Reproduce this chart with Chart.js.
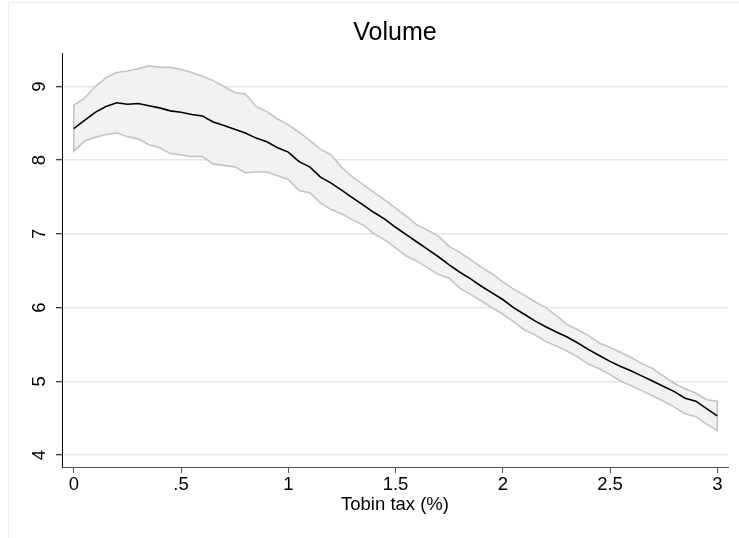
<!DOCTYPE html>
<html>
<head>
<meta charset="utf-8">
<script src="https://cdn.jsdelivr.net/npm/chart.js@4.4.1/dist/chart.umd.min.js"></script>
<style>
    html, body { margin: 0; padding: 0; background: #fff; }
    #wrap { width: 739px; height: 538px; }
</style>
</head>
<body>
<div id="wrap"><canvas id="volume-chart" width="739" height="538"></canvas></div>
<script>
const taxLevels = [
    0, 0.05, 0.1, 0.15, 0.2, 0.25, 0.3, 0.35, 0.4, 0.45,
    0.5, 0.55, 0.6, 0.65, 0.7, 0.75, 0.8, 0.85, 0.9, 0.95,
    1, 1.05, 1.1, 1.15, 1.2, 1.25, 1.3, 1.35, 1.4, 1.45,
    1.5, 1.55, 1.6, 1.65, 1.7, 1.75, 1.8, 1.85, 1.9, 1.95,
    2, 2.05, 2.1, 2.15, 2.2, 2.25, 2.3, 2.35, 2.4, 2.45,
    2.5, 2.55, 2.6, 2.65, 2.7, 2.75, 2.8, 2.85, 2.9, 2.95,
    3
];
const meanVolume = [
    8.43, 8.54, 8.65, 8.73, 8.78, 8.76, 8.77, 8.74, 8.71, 8.67,
    8.65, 8.62, 8.60, 8.52, 8.47, 8.42, 8.37, 8.30, 8.25, 8.17,
    8.11, 7.98, 7.91, 7.77, 7.69, 7.59, 7.49, 7.39, 7.29, 7.20,
    7.09, 6.99, 6.89, 6.79, 6.69, 6.58, 6.48, 6.39, 6.29, 6.20,
    6.11, 6.00, 5.91, 5.82, 5.74, 5.67, 5.60, 5.52, 5.43, 5.35,
    5.27, 5.20, 5.14, 5.07, 5.00, 4.93, 4.86, 4.77, 4.73, 4.63,
    4.53
];
const upperVolume = [
    8.75, 8.84, 9.00, 9.12, 9.19, 9.21, 9.24, 9.28, 9.26, 9.26,
    9.23, 9.19, 9.14, 9.08, 9.00, 8.92, 8.90, 8.73, 8.66, 8.56,
    8.48, 8.38, 8.27, 8.15, 8.07, 7.90, 7.77, 7.67, 7.56, 7.46,
    7.35, 7.24, 7.12, 7.05, 6.97, 6.83, 6.75, 6.65, 6.55, 6.46,
    6.35, 6.25, 6.17, 6.08, 6.00, 5.89, 5.77, 5.70, 5.62, 5.52,
    5.46, 5.39, 5.32, 5.24, 5.17, 5.07, 4.97, 4.90, 4.84, 4.75,
    4.73
];
const lowerVolume = [
    8.12, 8.26, 8.31, 8.35, 8.37, 8.32, 8.29, 8.21, 8.17, 8.09,
    8.07, 8.05, 8.05, 7.95, 7.93, 7.91, 7.83, 7.84, 7.84, 7.79,
    7.74, 7.59, 7.56, 7.42, 7.33, 7.27, 7.19, 7.12, 7.00, 6.92,
    6.81, 6.70, 6.63, 6.54, 6.45, 6.40, 6.26, 6.18, 6.09, 6.00,
    5.91, 5.81, 5.70, 5.63, 5.54, 5.48, 5.41, 5.33, 5.23, 5.17,
    5.09, 5.00, 4.94, 4.87, 4.80, 4.73, 4.65, 4.56, 4.52, 4.42,
    4.33
];
const xTickValues = [0, 0.5, 1, 1.5, 2, 2.5, 3];
const xTickLabels = ['0', '.5', '1', '1.5', '2', '2.5', '3'];
const yTickValues = [4, 5, 6, 7, 8, 9];
const yTickLabels = ['4', '5', '6', '7', '8', '9'];

const fontFamily = '"Liberation Sans", Arial, Helvetica, sans-serif';

// closed outline: upper edge left to right, then lower edge back
function buildBand() {
    const top = taxLevels.map((x, i) => ({ x: x, y: upperVolume[i] }));
    const bottom = taxLevels.map((x, i) => ({ x: x, y: lowerVolume[i] })).reverse();
    const pts = top.concat(bottom);
    pts.push(top[0]);
    return pts;
}

const framePlugin = {
    id: 'frame',
    beforeDraw(chart) {
        const ctx = chart.ctx;
        ctx.save();
        ctx.fillStyle = '#fff';
        ctx.fillRect(0, 0, chart.width, chart.height);
        ctx.strokeStyle = '#ececec';
        ctx.lineWidth = 1;
        ctx.beginPath();
        ctx.moveTo(8.5, chart.height);
        ctx.lineTo(8.5, 2.5);
        ctx.lineTo(chart.width, 2.5);
        ctx.stroke();
        ctx.restore();
    }
};

new Chart(document.getElementById('volume-chart'), {
    type: 'line',
    data: {
        datasets: [
            {
                data: buildBand(),
                order: 2,
                borderColor: '#c4c4c4',
                borderWidth: 1.6,
                backgroundColor: '#f2f2f2',
                fill: 'shape',
                pointRadius: 0,
                tension: 0
            },
            {
                data: taxLevels.map((x, i) => ({ x: x, y: meanVolume[i] })),
                order: 1,
                borderColor: '#000',
                borderWidth: 1.6,
                fill: false,
                pointRadius: 0,
                tension: 0
            }
        ]
    },
    options: {
        responsive: false,
        animation: false,
        devicePixelRatio: 1,
        layout: { padding: { top: 0, left: 0, right: 11, bottom: 22 } },
        plugins: {
            legend: { display: false },
            tooltip: { enabled: false },
            title: {
                display: true,
                text: 'Volume',
                fullSize: false,
                color: '#000',
                font: { family: fontFamily, size: 25, weight: 'normal' },
                padding: { top: 18, bottom: 5 }
            }
        },
        scales: {
            x: {
                type: 'linear',
                min: -0.055,
                max: 3.05,
                afterBuildTicks: (s) => { s.ticks = xTickValues.map(v => ({ value: v })); },
                afterFit: (s) => { s.height = 49; },
                grid: { drawOnChartArea: false, tickLength: 6, tickColor: '#555', tickWidth: 1 },
                border: { color: '#555', width: 1 },
                ticks: {
                    autoSkip: false,
                    maxRotation: 0,
                    padding: 1,
                    color: '#000',
                    font: { family: fontFamily, size: 18.5 },
                    callback: (v, i) => xTickLabels[i]
                },
                title: {
                    display: true,
                    text: 'Tobin tax (%)',
                    color: '#000',
                    font: { family: fontFamily, size: 18.5 },
                    padding: { top: 0, bottom: 0 }
                }
            },
            y: {
                type: 'linear',
                min: 3.837,
                max: 9.455,
                afterBuildTicks: (s) => { s.ticks = yTickValues.map(v => ({ value: v })); },
                afterFit: (s) => { s.width = 62; },
                grid: { color: '#e6e6e6', lineWidth: 1.5, tickLength: 6, tickColor: '#000', tickWidth: 1 },
                border: { color: '#000', width: 1 },
                ticks: {
                    autoSkip: false,
                    minRotation: 90,
                    maxRotation: 90,
                    crossAlign: 'center',
                    padding: 11,
                    color: '#000',
                    font: { family: fontFamily, size: 18.5 },
                    callback: (v, i) => yTickLabels[i]
                }
            }
        }
    },
    plugins: [framePlugin]
});
</script>
</body>
</html>
